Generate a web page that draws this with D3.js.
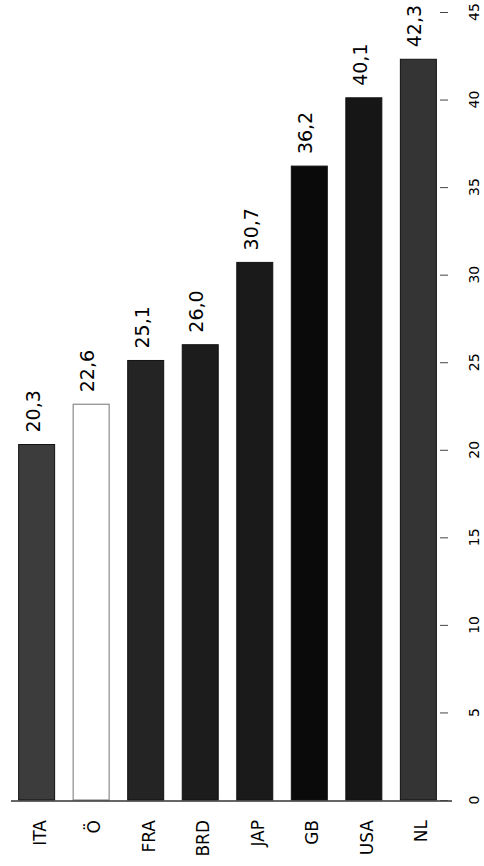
<!DOCTYPE html>
<html>
<head>
<meta charset="utf-8">
<script src="https://cdn.jsdelivr.net/npm/d3@7"></script>
<style>
  html, body { margin: 0; padding: 0; background: #fff; }
  svg { display: block; }
</style>
</head>
<body>
<svg id="chart" width="484" height="866"></svg>
<script>
// data
const countries = ["ITA", "Ö", "FRA", "BRD", "JAP", "GB", "USA", "NL"];
const values = [20.3, 22.6, 25.1, 26.0, 30.7, 36.2, 40.1, 42.3];
const tickValues = [0, 5, 10, 15, 20, 25, 30, 35, 40, 45];
// bar shades (the scan is mottled, these are the averages)
const barColors = ["#3c3c3c", "#ffffff", "#242424", "#1c1c1c", "#1a1a1a", "#0a0a0a", "#161616", "#343434"];

const svg = d3.select("#chart");
const font = "DejaVu Sans, sans-serif";

// chart is printed turned on its side: categories run left->right, values bottom->top
const x = d3.scaleBand()
  .domain(countries)
  .range([5, 450])
  .paddingInner(0.34)
  .paddingOuter(0.25);

const y = d3.scaleLinear()
  .domain([0, 45])
  .range([800, 12]);

const data = countries.map((c, i) => ({ name: c, value: values[i], color: barColors[i] }));

// bars
svg.selectAll(".bar")
  .data(data)
  .enter().append("rect")
  .attr("class", "bar")
  .attr("x", d => x(d.name))
  .attr("y", d => y(d.value))
  .attr("width", x.bandwidth())
  .attr("height", d => y(0) - y(d.value))
  .attr("fill", d => d.color)
  .attr("stroke", d => d.name === "Ö" ? "#8a8a8a" : "#111")
  .attr("stroke-width", d => d.name === "Ö" ? 1.2 : 1);

// baseline
svg.append("line")
  .attr("x1", 11).attr("x2", 452)
  .attr("y1", y(0) + 1).attr("y2", y(0) + 1)
  .attr("stroke", "#333")
  .attr("stroke-width", 1.5);

// value ticks, no domain line
const axis = svg.append("g")
  .attr("transform", "translate(440,0)")
  .call(d3.axisRight(y).tickValues(tickValues).tickSize(8).tickFormat(""));
axis.select(".domain").remove();
axis.selectAll(".tick line").attr("stroke", "#444").attr("stroke-width", 1);

// tick labels, turned
svg.selectAll(".tick-label")
  .data(tickValues)
  .enter().append("text")
  .attr("class", "tick-label")
  .attr("transform", d => `translate(479,${y(d)}) rotate(-90)`)
  .attr("text-anchor", "middle")
  .style("font-family", font)
  .style("font-size", "14px")
  .attr("fill", "#000")
  .text(d => d);

// value labels above bars
svg.selectAll(".value-label")
  .data(data)
  .enter().append("text")
  .attr("class", "value-label")
  .attr("transform", d => `translate(${x(d.name) + x.bandwidth() / 2 + 3},${y(d.value) - 12}) rotate(-90)`)
  .attr("text-anchor", "start")
  .style("font-family", font)
  .style("font-size", "19px")
  .attr("fill", "#000")
  .text(d => d3.format(".1f")(d.value).replace(".", ","));

// category labels below the baseline
svg.selectAll(".cat-label")
  .data(data)
  .enter().append("text")
  .attr("class", "cat-label")
  .attr("transform", d => `translate(${x(d.name) + x.bandwidth() / 2 + 3},820) rotate(-90)`)
  .attr("text-anchor", "end")
  .attr("dominant-baseline", "central")
  .style("font-family", font)
  .style("font-size", "17px")
  .attr("fill", "#000")
  .text(d => d.name);
</script>
</body>
</html>
